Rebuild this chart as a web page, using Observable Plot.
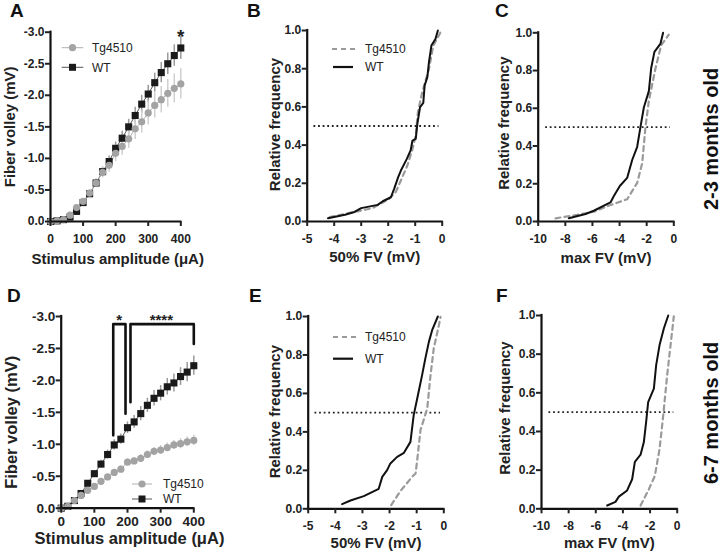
<!DOCTYPE html>
<html><head><meta charset="utf-8">
<script src="https://cdn.jsdelivr.net/npm/d3@7"></script>
<script src="https://cdn.jsdelivr.net/npm/@observablehq/plot@0.6"></script>
<style>
body{margin:0;background:#fff}
#fig{position:relative;width:721px;height:554px;overflow:hidden;font-family:"Liberation Sans",Arial,sans-serif;background:#fff}
.panel{position:absolute}
svg{overflow:visible}
</style>
</head><body><div id="fig"></div>
<script>
// ---------- data ----------
const amplitude = [0,20,40,60,80,100,120,140,160,180,200,220,240,260,280,300,320,340,360,380,400];

// Panel A (2-3 months): fiber volley (mV), mean and SEM
const aWT    = [0,-0.01,-0.03,-0.07,-0.16,-0.30,-0.44,-0.61,-0.79,-0.95,-1.16,-1.32,-1.50,-1.68,-1.86,-2.02,-2.20,-2.36,-2.50,-2.63,-2.75];
const aWTsem = [0,0.005,0.01,0.02,0.03,0.04,0.05,0.06,0.07,0.09,0.10,0.11,0.12,0.13,0.14,0.14,0.15,0.16,0.17,0.17,0.18];
const aTg    = [0,-0.01,-0.03,-0.10,-0.22,-0.32,-0.45,-0.61,-0.78,-0.89,-1.08,-1.19,-1.31,-1.47,-1.58,-1.72,-1.84,-1.93,-2.03,-2.11,-2.18];
const aTgsem = [0,0.005,0.01,0.02,0.03,0.04,0.06,0.07,0.09,0.11,0.13,0.14,0.15,0.17,0.18,0.19,0.20,0.21,0.22,0.23,0.24];

// Panel D (6-7 months)
const dWT    = [0,-0.03,-0.12,-0.23,-0.39,-0.54,-0.69,-0.84,-0.99,-1.08,-1.26,-1.35,-1.48,-1.61,-1.72,-1.80,-1.90,-1.96,-2.06,-2.13,-2.23];
const dWTsem = [0,0.01,0.02,0.03,0.04,0.05,0.06,0.07,0.08,0.08,0.09,0.10,0.11,0.11,0.12,0.12,0.13,0.14,0.14,0.15,0.15];
const dTg    = [0,-0.03,-0.12,-0.20,-0.28,-0.34,-0.42,-0.49,-0.56,-0.61,-0.72,-0.74,-0.78,-0.84,-0.89,-0.91,-0.95,-0.99,-1.01,-1.04,-1.06];
const dTgsem = [0,0.01,0.01,0.02,0.02,0.03,0.03,0.04,0.04,0.05,0.05,0.05,0.06,0.06,0.06,0.07,0.07,0.07,0.08,0.08,0.08];

// significance brackets in D: [amplitude, mV]
const bracketStar  = [[157,-1.14],[157,-2.88],[194,-2.88],[194,-1.48]];
const bracketStar4 = [[209,-1.66],[209,-2.88],[400,-2.88],[400,-2.57]];
const sigLabels = [{x:175,y:-2.99,t:"*"},{x:302,y:-2.99,t:"****"}];
const sigA = [{x:400,y:-2.99,t:"*"}];

// Cumulative distributions [value (mV), relative frequency]
const bWT = [[-4.23,0.017],[-3.6,0.035],[-3.25,0.05],[-3.0,0.07],[-2.39,0.087],[-2.2,0.106],[-1.9,0.127],[-1.78,0.171],[-1.63,0.232],[-1.53,0.267],[-1.31,0.328],[-1.17,0.372],[-1.10,0.424],[-0.98,0.433],[-0.92,0.511],[-0.82,0.599],[-0.70,0.621],[-0.65,0.712],[-0.55,0.756],[-0.49,0.834],[-0.40,0.921],[-0.25,0.956],[-0.16,1.0]];
const bTg = [[-4.17,0.023],[-3.25,0.05],[-2.58,0.07],[-1.96,0.119],[-1.72,0.154],[-1.53,0.215],[-1.29,0.293],[-1.10,0.380],[-0.98,0.450],[-0.90,0.572],[-0.74,0.677],[-0.49,0.799],[-0.33,0.921],[-0.06,0.991]];
const cWT = [[-7.74,0.017],[-6.51,0.040],[-5.90,0.057],[-4.67,0.101],[-4.42,0.135],[-3.98,0.188],[-3.44,0.231],[-3.07,0.326],[-2.70,0.396],[-2.46,0.500],[-2.21,0.604],[-1.84,0.691],[-1.67,0.812],[-1.43,0.899],[-0.98,0.943],[-0.79,1.0]];
const cTg = [[-8.72,0.017],[-7.13,0.035],[-5.90,0.052],[-4.67,0.087],[-3.44,0.118],[-2.70,0.205],[-2.33,0.309],[-2.09,0.500],[-1.84,0.639],[-1.35,0.812],[-0.93,0.934],[-0.37,0.99]];
const eWT = [[-3.75,0.024],[-3.44,0.043],[-2.95,0.066],[-2.40,0.104],[-2.27,0.166],[-2.09,0.201],[-1.97,0.236],[-1.72,0.270],[-1.47,0.291],[-1.23,0.348],[-1.11,0.487],[-0.98,0.574],[-0.80,0.695],[-0.68,0.782],[-0.55,0.868],[-0.43,0.929],[-0.22,1.0]];
const eTg = [[-1.94,0.019],[-1.60,0.092],[-1.17,0.166],[-1.04,0.184],[-0.96,0.279],[-0.86,0.409],[-0.61,0.522],[-0.49,0.695],[-0.37,0.834],[-0.18,0.955],[-0.12,0.998]];
const fWT = [[-5.16,0.017],[-4.55,0.036],[-4.30,0.063],[-3.69,0.095],[-3.32,0.153],[-3.12,0.243],[-2.70,0.280],[-2.46,0.344],[-2.29,0.448],[-2.14,0.552],[-1.72,0.622],[-1.55,0.743],[-1.30,0.847],[-0.98,0.934],[-0.66,1.0]];
const fTg = [[-2.70,0.017],[-2.09,0.101],[-1.65,0.170],[-1.30,0.309],[-1.03,0.483],[-0.74,0.691],[-0.49,0.847],[-0.25,0.995]];

const medianLine50 = [{y:0.5, x1:-4.75, x2:-0.12}];
const medianLineMax = [{y:0.5, x1:-9.45, x2:-0.25}];

// tick values
const ampTicks = [0,100,200,300,400];
const fvTicks = [0,-0.5,-1,-1.5,-2,-2.5,-3];
const freqTicks = [0,0.2,0.4,0.6,0.8,1];
const halfTicks = [-5,-4,-3,-2,-1,0];
const maxTicks = [-10,-8,-6,-4,-2,0];

// ---------- drawing ----------
const fig = document.getElementById("fig");
const FONT = '"Liberation Sans", Arial, sans-serif';
function place(node, left, top){
  const d = document.createElement("div");
  d.className = "panel"; d.style.left = left+"px"; d.style.top = top+"px";
  d.appendChild(node); fig.appendChild(d);
}
function baseStyle(fs){
  return {background:"transparent", fontFamily:FONT, fontSize:fs+"px", fontWeight:"bold", color:"#222", overflow:"visible", maxWidth:"none"};
}
function axesMarks(p){
  return [
    Plot.ruleX([p.xDomain[0]], {stroke:"#111", strokeWidth:2.2, strokeLinecap:"square"}),
    Plot.ruleY([p.yDomain[0]], {stroke:"#111", strokeWidth:2.2, strokeLinecap:"square"}),
    Plot.axisX({ticks:p.xTicks, tickFormat:d=>String(d), tickSize:5, tickPadding:p.xPad, strokeWidth:2, label:null}),
    Plot.axisY({ticks:p.yTicks, tickFormat:d=>d.toFixed(1), tickSize:5, tickPadding:1, strokeWidth:2, label:null}),
    Plot.text([p.yTitle], {text:d=>d, frameAnchor:"left", textAnchor:"middle", lineAnchor:"middle", rotate:-90, dx:p.ytDx, dy:p.ytDy, fontSize:p.titleSize, fontWeight:"bold"}),
    Plot.text([p.xTitle], {text:d=>d, frameAnchor:"bottom", textAnchor:"middle", lineAnchor:"middle", dx:p.xtDx||0, dy:p.xtDy, fontSize:p.titleSize, fontWeight:"bold"})
  ];
}

function fvPanel(p){
  const rows = amplitude.map((a,i)=>({x:a, wt:p.wt[i], wtSem:p.wtSem[i], tg:p.tg[i], tgSem:p.tgSem[i]}));
  const marks = [
    Plot.line(rows, {x:"x", y:"wt", stroke:"#555", strokeWidth:1}),
    Plot.line(rows, {x:"x", y:"tg", stroke:"#b0b0b0", strokeWidth:1}),
    Plot.ruleX(rows, {x:"x", y1:d=>d.wt-d.wtSem, y2:d=>d.wt+d.wtSem, stroke:"#9a9a9a", strokeWidth:1.5}),
    Plot.ruleX(rows, {x:"x", y1:d=>d.tg-d.tgSem, y2:d=>d.tg+d.tgSem, stroke:"#cfcfcf", strokeWidth:1.5}),
    Plot.dot(rows, {x:"x", y:"wt", symbol:"square", r:p.sq, fill:"#1a1a1a"}),
    Plot.dot(rows, {x:"x", y:"tg", r:p.ci, fill:"#a3a3a3"}),
    ...(p.extra||[]),
    ...axesMarks(p)
  ];
  return Plot.plot({width:p.w, height:p.h, marginLeft:p.mL, marginRight:p.mR, marginTop:p.mT, marginBottom:p.mB,
    style:baseStyle(p.fs), x:{domain:p.xDomain}, y:{domain:p.yDomain}, marks});
}

function cdfPanel(p){
  const marks = [
    Plot.ruleY(p.ref, {y:"y", x1:"x1", x2:"x2", stroke:"#222", strokeWidth:1.8, strokeDasharray:"1.8,2.8"}),
    Plot.line(p.tg, {x:d=>d[0], y:d=>d[1], stroke:"#9a9a9a", strokeWidth:2.2, strokeDasharray:"5,4"}),
    Plot.line(p.wt, {x:d=>d[0], y:d=>d[1], stroke:"#111", strokeWidth:2}),
    ...axesMarks(p)
  ];
  return Plot.plot({width:p.w, height:p.h, marginLeft:p.mL, marginRight:p.mR, marginTop:p.mT, marginBottom:p.mB,
    style:baseStyle(p.fs), x:{domain:p.xDomain}, y:{domain:[0,1]}, marks});
}

// A
place(fvPanel({w:240,h:275,mL:50,mR:59.7,mT:31.7,mB:54, fs:12, titleSize:15,
  wt:aWT, wtSem:aWTsem, tg:aTg, tgSem:aTgsem, sq:4, ci:3.6,
  xDomain:[0,400], yDomain:[0,-3], xTicks:ampTicks, yTicks:fvTicks, xPad:8,
  yTitle:"Fiber volley (mV)", xTitle:"Stimulus amplitude (\u03BCA)", ytDx:-40, ytDy:0, xtDy:37.3, xtDx:2,
  extra:[Plot.text(sigA, {x:"x", y:"y", text:"t", fontSize:19, fontWeight:"bold", dy:4})]
}), 0, 0);

// D
place(fvPanel({w:240,h:274,mL:60.7,mR:46.7,mT:36,mB:46.3, fs:13.5, titleSize:16.5,
  wt:dWT, wtSem:dWTsem, tg:dTg, tgSem:dTgsem, sq:4, ci:3.6,
  xDomain:[0,400], yDomain:[0,-3], xTicks:ampTicks, yTicks:fvTicks, xPad:3.5,
  yTitle:"Fiber volley (mV)", xTitle:"Stimulus amplitude (\u03BCA)", ytDx:-49, ytDy:10, xtDy:30.5, xtDx:2,
  extra:[
    Plot.line(bracketStar, {x:d=>d[0], y:d=>d[1], stroke:"#111", strokeWidth:2.6}),
    Plot.line(bracketStar4, {x:d=>d[0], y:d=>d[1], stroke:"#111", strokeWidth:2.6}),
    Plot.text(sigLabels, {x:"x", y:"y", text:"t", fontSize:15, fontWeight:"bold", dy:3})
  ]
}), 0, 280);

// B
place(cdfPanel({w:240,h:275,mL:66.7,mR:38.3,mT:30,mB:54, fs:12, titleSize:15,
  wt:bWT, tg:bTg, ref:medianLine50, xDomain:[-5,0], yDomain:[0,1], xTicks:halfTicks, yTicks:freqTicks, xPad:8,
  yTitle:"Relative frequency", xTitle:"50% FV (mV)", ytDx:-32.2, ytDy:-1.5, xtDy:35.5
}), 240, 0);

// C
place(cdfPanel({w:241,h:275,mL:57.7,mR:47.7,mT:32.3,mB:54, fs:12, titleSize:15,
  wt:cWT, tg:cTg, ref:medianLineMax, xDomain:[-10,0], yDomain:[0,1], xTicks:maxTicks, yTicks:freqTicks, xPad:8,
  yTitle:"Relative frequency", xTitle:"max FV (mV)", ytDx:-34.2, ytDy:-4, xtDy:37
}), 480, 0);

// E
place(cdfPanel({w:240,h:274,mL:67.7,mR:36.7,mT:36,mB:45.7, fs:12, titleSize:15,
  wt:eWT, tg:eTg, ref:medianLine50, xDomain:[-5,0], yDomain:[0,1], xTicks:halfTicks, yTicks:freqTicks, xPad:7.4,
  yTitle:"Relative frequency", xTitle:"50% FV (mV)", ytDx:-33.5, ytDy:-1, xtDy:34
}), 240, 280);

// F
place(cdfPanel({w:241,h:274,mL:61,mR:44.3,mT:35,mB:45.7, fs:12, titleSize:15,
  wt:fWT, tg:fTg, ref:medianLineMax, xDomain:[-10,0], yDomain:[0,1], xTicks:maxTicks, yTicks:freqTicks, xPad:7.4,
  yTitle:"Relative frequency", xTitle:"max FV (mV)", ytDx:-36.8, ytDy:-4, xtDy:34
}), 480, 280);

// ---------- overlay: panel letters, age labels, legends ----------
const NS = "http://www.w3.org/2000/svg";
const ov = document.createElementNS(NS, "svg");
ov.setAttribute("width", 721); ov.setAttribute("height", 554);
ov.style.position = "absolute"; ov.style.left = "0"; ov.style.top = "0";
ov.style.fontFamily = FONT;
fig.appendChild(ov);
function el(tag, attrs, text){
  const e = document.createElementNS(NS, tag);
  for (const k in attrs) e.setAttribute(k, attrs[k]);
  if (text != null) e.textContent = text;
  ov.appendChild(e); return e;
}
const letters = [["A",10,16.5],["B",247,16.5],["C",495,17],["D",7,302],["E",249,302],["F",496,302]];
for (const [t,x,y] of letters) el("text", {x, y, "font-size":19, "font-weight":"bold", fill:"#111"}, t);

const ages = [["2-3 months old",139],["6-7 months old",413]];
for (const [t,cy] of ages) el("text", {transform:`translate(718,${cy}) rotate(-90)`, "text-anchor":"middle", "font-size":20, "font-weight":"bold", fill:"#111"}, t);

function legText(x, y, t){ el("text", {x, y, dy:"0.36em", "font-size":12, fill:"#222"}, t); }
// A legend
el("line", {x1:61.7, x2:83.3, y1:47.7, y2:47.7, stroke:"#b0b0b0", "stroke-width":1});
el("circle", {cx:72.5, cy:47.7, r:3.6, fill:"#a3a3a3"});
legText(92, 47.7, "Tg4510");
el("line", {x1:61.7, x2:83.3, y1:67.3, y2:67.3, stroke:"#555", "stroke-width":1});
el("rect", {x:69, y:63.8, width:7, height:7, fill:"#1a1a1a"});
legText(92, 67.3, "WT");
// D legend
el("line", {x1:132, x2:152, y1:484, y2:484, stroke:"#b0b0b0", "stroke-width":1});
el("circle", {cx:142, cy:484, r:3.6, fill:"#a3a3a3"});
legText(163, 484, "Tg4510");
el("line", {x1:132, x2:152, y1:499, y2:499, stroke:"#555", "stroke-width":1});
el("rect", {x:138.5, y:495.5, width:7, height:7, fill:"#1a1a1a"});
legText(163, 499, "WT");
// B legend
el("line", {x1:332, x2:355, y1:49, y2:49, stroke:"#9a9a9a", "stroke-width":2.2, "stroke-dasharray":"5,4"});
legText(365, 49, "Tg4510");
el("line", {x1:333, x2:353, y1:67, y2:67, stroke:"#111", "stroke-width":2.2});
legText(365, 67, "WT");
// E legend
el("line", {x1:333, x2:356, y1:337, y2:337, stroke:"#9a9a9a", "stroke-width":2.2, "stroke-dasharray":"5,4"});
legText(365, 337, "Tg4510");
el("line", {x1:333, x2:353, y1:358.7, y2:358.7, stroke:"#111", "stroke-width":2.2});
legText(365, 358.7, "WT");
</script></body></html>
